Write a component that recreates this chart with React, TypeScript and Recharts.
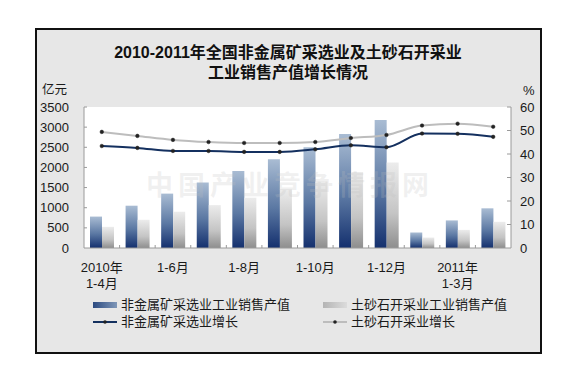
import React from 'react';
import {
  ComposedChart,
  Bar,
  Line,
  XAxis,
  YAxis,
  CartesianGrid,
} from 'recharts';

// categories: cumulative periods
const categories = [
  '2010年1-4月', '2010年1-5月', '2010年1-6月', '2010年1-7月', '2010年1-8月', '2010年1-9月',
  '2010年1-10月', '2010年1-11月', '2010年1-12月', '2011年1-2月', '2011年1-3月', '2011年1-4月',
];

// 亿元
const nonMetalSales = [780, 1050, 1350, 1625, 1910, 2200, 2500, 2830, 3180, 385, 685, 985];
const sandStoneSales = [525, 700, 900, 1065, 1250, 1460, 1650, 1885, 2125, 260, 450, 650];

// %
const nonMetalGrowth = [43.4, 42.6, 41.3, 41.3, 40.9, 40.9, 42.0, 43.7, 42.9, 48.7, 48.6, 47.3];
const sandStoneGrowth = [49.4, 47.7, 46.0, 45.1, 44.7, 44.7, 45.1, 46.8, 48.1, 52.1, 52.9, 51.6];

const leftTicks = [0, 500, 1000, 1500, 2000, 2500, 3000, 3500];
const rightTicks = [0, 10, 20, 30, 40, 50, 60];

const seriesNames = [
  '非金属矿采选业工业销售产值',
  '土砂石开采业工业销售产值',
  '非金属矿采选业增长',
  '土砂石开采业增长',
];

const data = categories.map((name, i) => ({
  name,
  nonMetalSales: nonMetalSales[i],
  sandStoneSales: sandStoneSales[i],
  nonMetalGrowth: nonMetalGrowth[i],
  sandStoneGrowth: sandStoneGrowth[i],
}));

const FONT = '"Liberation Sans", Arial, "Noto Sans CJK SC", sans-serif';
const TEXT = '#1a1a1a';
const AXIS = '#9a9a9a';
const BAND = (511 - 84) / categories.length;

const splitLabel = (label: string) => {
  const m = label.match(/^(\d{4}年)(.*)$/);
  return m ? { year: m[1], period: m[2] } : { year: '', period: label };
};

const XTick = (props: any) => {
  const { x, y, index, payload } = props;
  const cur = splitLabel(payload.value);
  const prev = index >= 2 ? splitLabel(categories[index - 2]) : null;
  const showYear = !prev || prev.year !== cur.year;
  return (
    <g>
      {index > 0 && (
        <line x1={x - BAND / 2} x2={x - BAND / 2} y1={y - 3} y2={y} stroke={AXIS} />
      )}
      {index % 2 === 0 &&
        (showYear ? (
          <g>
            <text x={x} y={y + 19} textAnchor="middle" dominantBaseline="central" fontSize={13} fill={TEXT} fontFamily={FONT}>
              {cur.year}
            </text>
            <text x={x} y={y + 35} textAnchor="middle" dominantBaseline="central" fontSize={13} fill={TEXT} fontFamily={FONT}>
              {cur.period}
            </text>
          </g>
        ) : (
          <text x={x} y={y + 19} textAnchor="middle" dominantBaseline="central" fontSize={13} fill={TEXT} fontFamily={FONT}>
            {cur.period}
          </text>
        ))}
    </g>
  );
};

const LeftTick = (props: any) => {
  const { x, y, payload } = props;
  return (
    <g>
      {payload.value > 0 && <line x1={x + 15} x2={x + 18} y1={y} y2={y} stroke={AXIS} />}
      <text x={x} y={y} textAnchor="end" dominantBaseline="central" fontSize={13} fill={TEXT} fontFamily={FONT}>
        {payload.value}
      </text>
    </g>
  );
};

const RightTick = (props: any) => {
  const { x, y, payload } = props;
  return (
    <g>
      {payload.value > 0 && <line x1={x - 13} x2={x - 9} y1={y} y2={y} stroke={AXIS} />}
      <text x={x} y={y} textAnchor="start" dominantBaseline="central" fontSize={13} fill={TEXT} fontFamily={FONT}>
        {payload.value}
      </text>
    </g>
  );
};

const LegendItem = ({ kind, label }: { kind: string; label: string }) => (
  <div style={{ display: 'flex', alignItems: 'center', height: 17 }}>
    <svg width={26} height={10} style={{ marginRight: 2 }}>
      {kind === 'barDark' && <rect x={0} y={2} width={24} height={6} fill="url(#legendDark)" />}
      {kind === 'barGrey' && <rect x={0} y={2} width={24} height={6} fill="url(#legendGrey)" />}
      {kind === 'lineDark' && (
        <g>
          <line x1={0} x2={24} y1={5} y2={5} stroke="#14305f" strokeWidth={2} />
          <circle cx={12} cy={5} r={1.8} fill="#222" />
        </g>
      )}
      {kind === 'lineGrey' && (
        <g>
          <line x1={0} x2={24} y1={5} y2={5} stroke="#bdbdbd" strokeWidth={2} />
          <circle cx={12} cy={5} r={1.8} fill="#222" />
        </g>
      )}
    </svg>
    <span style={{ fontSize: 13, color: TEXT, fontFamily: FONT, lineHeight: '17px', whiteSpace: 'nowrap' }}>{label}</span>
  </div>
);

export default function App() {
  return (
    <div style={{ position: 'absolute', left: 0, top: 0, width: 573, height: 380, background: '#fff', overflow: 'hidden' }}>
      {/* frame */}
      <div
        style={{
          position: 'absolute',
          left: 35,
          top: 28,
          width: 507,
          height: 326,
          border: '2px solid #111',
          boxSizing: 'border-box',
          background: '#e7e7e7',
        }}
      />
      {/* title */}
      <div
        style={{
          position: 'absolute',
          left: 0,
          top: 43,
          width: 576,
          textAlign: 'center',
          fontFamily: FONT,
          fontWeight: 'bold',
          fontSize: 16,
          lineHeight: '20px',
          color: '#111',
        }}
      >
        2010-2011年全国非金属矿采选业及土砂石开采业
        <br />
        工业销售产值增长情况
      </div>
      <div style={{ position: 'absolute', left: 42, top: 84, fontSize: 12.5, lineHeight: '13px', fontFamily: FONT, color: TEXT }}>亿元</div>
      <div style={{ position: 'absolute', left: 523, top: 84, fontSize: 13, lineHeight: '13px', fontFamily: FONT, color: TEXT }}>%</div>

      <div style={{ position: 'absolute', left: 0, top: 0 }}>
        <ComposedChart
          width={573}
          height={380}
          data={data}
          margin={{ top: 107, right: 22, bottom: 102, left: 44 }}
          barGap={0}
        >
          <defs>
            <linearGradient id="barDark" x1="0" y1="0" x2="0" y2="1">
              <stop offset="0%" stopColor="#a9bcd3" />
              <stop offset="55%" stopColor="#5b78a3" />
              <stop offset="100%" stopColor="#14306e" />
            </linearGradient>
            <linearGradient id="barGrey" x1="0" y1="0" x2="0" y2="1">
              <stop offset="0%" stopColor="#ececec" />
              <stop offset="60%" stopColor="#c4c4c4" />
              <stop offset="100%" stopColor="#8e8e8e" />
            </linearGradient>
          </defs>
          <CartesianGrid horizontal={false} vertical={false} fill="#ffffff" stroke="none" />
          <XAxis
            dataKey="name"
            interval={0}
            height={30}
            tickSize={0}
            tickMargin={0}
            tickLine={false}
            axisLine={{ stroke: AXIS }}
            tick={<XTick />}
          />
          <YAxis
            yAxisId="left"
            orientation="left"
            width={40}
            domain={[0, 3500]}
            ticks={leftTicks}
            interval={0}
            tickSize={0}
            tickMargin={15}
            tickLine={false}
            axisLine={{ stroke: AXIS }}
            tick={<LeftTick />}
          />
          <YAxis
            yAxisId="right"
            orientation="right"
            width={40}
            domain={[0, 60]}
            ticks={rightTicks}
            interval={0}
            tickSize={0}
            tickMargin={9}
            tickLine={false}
            axisLine={{ stroke: AXIS }}
            tick={<RightTick />}
          />
          <Bar yAxisId="left" dataKey="nonMetalSales" name={seriesNames[0]} barSize={12} fill="url(#barDark)" isAnimationActive={false} />
          <Bar yAxisId="left" dataKey="sandStoneSales" name={seriesNames[1]} barSize={12} fill="url(#barGrey)" isAnimationActive={false} />
          <Line
            yAxisId="right"
            type="monotone"
            dataKey="sandStoneGrowth"
            name={seriesNames[3]}
            stroke="#bdbdbd"
            strokeWidth={2}
            dot={{ r: 1.8, fill: '#222', stroke: '#222', strokeWidth: 0.5 }}
            isAnimationActive={false}
          />
          <Line
            yAxisId="right"
            type="monotone"
            dataKey="nonMetalGrowth"
            name={seriesNames[2]}
            stroke="#14305f"
            strokeWidth={2}
            dot={{ r: 1.8, fill: '#222', stroke: '#222', strokeWidth: 0.5 }}
            isAnimationActive={false}
          />
        </ComposedChart>
      </div>

      {/* watermark */}
      <div
        style={{
          position: 'absolute',
          left: 140,
          top: 168,
          width: 300,
          textAlign: 'center',
          fontFamily: '"Noto Sans CJK SC", sans-serif',
          fontWeight: 'bold',
          fontSize: 27,
          letterSpacing: 5,
          lineHeight: '32px',
          color: 'rgba(190,190,190,0.22)',
          pointerEvents: 'none',
        }}
      >
        中国产业竞争情报网
      </div>

      {/* legend */}
      <svg width={0} height={0} style={{ position: 'absolute' }}>
        <defs>
          <linearGradient id="legendDark" x1="0" y1="0" x2="1" y2="0">
            <stop offset="0%" stopColor="#2c4a80" />
            <stop offset="100%" stopColor="#7f97b8" />
          </linearGradient>
          <linearGradient id="legendGrey" x1="0" y1="0" x2="1" y2="0">
            <stop offset="0%" stopColor="#b4b4b4" />
            <stop offset="100%" stopColor="#dcdcdc" />
          </linearGradient>
        </defs>
      </svg>
      <div
        style={{
          position: 'absolute',
          left: 93,
          top: 296,
          display: 'grid',
          gridTemplateColumns: '230px 230px',
        }}
      >
        <LegendItem kind="barDark" label={seriesNames[0]} />
        <LegendItem kind="barGrey" label={seriesNames[1]} />
        <LegendItem kind="lineDark" label={seriesNames[2]} />
        <LegendItem kind="lineGrey" label={seriesNames[3]} />
      </div>
    </div>
  );
}
